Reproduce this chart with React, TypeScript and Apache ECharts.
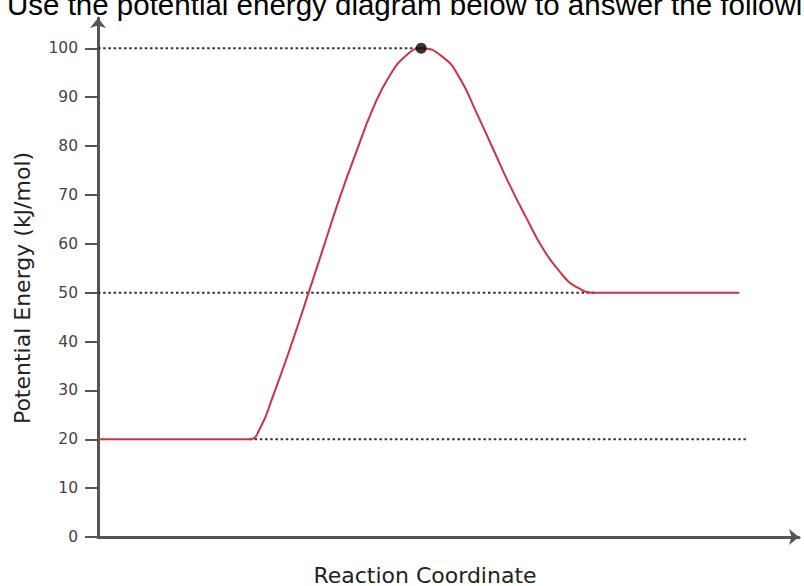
import React, { useEffect, useRef } from "react";
import * as echarts from "echarts";

const headerText = "Use the potential energy diagram below to answer the following question.";
const xTitle = "Reaction Coordinate";
const yTitle = "Potential Energy (kJ/mol)";

const yTickValues = [0, 10, 20, 30, 40, 50, 60, 70, 80, 90, 100];

// energy profile (x in reaction-coordinate units 0..100, y in kJ/mol)
const curveX = [0, 21.6, 23.1, 25.0, 27.4, 30.0, 32.1, 34.5, 36.9, 39.2, 41.6, 44.0, 46.1, 49.2, 51.6, 53.9, 56.3, 58.7, 61.1, 63.4, 65.8, 68.2, 71.0, 91.5];
const curveY = [20, 20, 22.2, 29.0, 38.6, 49.8, 59.0, 69.5, 79.0, 87.6, 94.4, 98.6, 100, 98.2, 93.9, 87.1, 79.6, 72.1, 65.3, 59.2, 54.4, 51.2, 50, 50];

// dotted reference levels
const refLevels = [100, 50, 20];
const refStart = [0, 0, 21.6];
const refEnd = [46.1, 71.0, 92.6];

// transition state point
const peakX = 46.1;
const peakY = 100;

export default function App() {
  const ref = useRef<HTMLDivElement>(null);
  useEffect(() => {
    if (!ref.current) return;
    const chart = echarts.init(ref.current, null, { renderer: "svg" });
    const labelFont = "'DejaVu Sans', 'Open Sans', sans-serif";
    const refSeries = refLevels.map((lv, i) => ({
      type: "line",
      data: [
        [refStart[i], lv],
        [refEnd[i], lv],
      ],
      symbol: "none",
      z: 1,
      lineStyle: { color: "#333", width: 2, type: [2.5, 2.7] },
      silent: true,
    }));
    chart.setOption({
      animation: false,
      backgroundColor: "#fff",
      grid: { left: 98, right: 5, top: 18, bottom: 49, outerBoundsMode: "none", containLabel: false },
      graphic: [
        {
          type: "text",
          left: 7,
          top: -11,
          style: {
            text: headerText,
            font: "29.5px 'Liberation Sans', Arial, sans-serif",
            fill: "#000",
          },
        },
      ],
      xAxis: {
        type: "value",
        min: 0,
        max: 100,
        name: xTitle,
        nameLocation: "middle",
        nameGap: 27,
        nameTextStyle: {
          fontFamily: labelFont,
          fontSize: 22,
          color: "#222",
          padding: [0, 47, 0, 0],
        },
        axisLine: {
          show: true,
          onZero: false,
          symbol: ["none", "arrow"],
          symbolSize: [12, 10],
          lineStyle: { color: "#555", width: 3 },
        },
        axisTick: { show: false },
        axisLabel: { show: false },
        splitLine: { show: false },
      },
      yAxis: {
        type: "value",
        min: 0,
        max: 106.2,
        name: yTitle,
        nameLocation: "middle",
        nameGap: 65,
        nameTextStyle: {
          fontFamily: labelFont,
          fontSize: 22,
          color: "#222",
          padding: [0, 21, 0, 0],
        },
        axisLine: {
          show: true,
          symbol: ["none", "arrow"],
          symbolSize: [12, 10],
          lineStyle: { color: "#555", width: 3 },
        },
        axisTick: {
          show: true,
          length: 13,
          customValues: yTickValues,
          lineStyle: { color: "#555", width: 2 },
        },
        axisLabel: {
          show: true,
          customValues: yTickValues,
          margin: 20,
          fontFamily: labelFont,
          fontSize: 15.5,
          color: "#444",
        },
        splitLine: { show: false },
      },
      series: [
        ...refSeries,
        {
          type: "line",
          data: curveX.map((x, i) => [x, curveY[i]]),
          smooth: 0.5,
          symbol: "none",
          z: 3,
          lineStyle: { color: "#cc3344", width: 2 },
        },
        {
          type: "scatter",
          data: [[peakX, peakY]],
          symbol: "circle",
          symbolSize: 11,
          z: 4,
          itemStyle: { color: "#000" },
        },
      ],
    });
    return () => chart.dispose();
  }, []);
  return (
    <div
      ref={ref}
      style={{ position: "absolute", left: 0, top: 0, width: 804, height: 586 }}
    />
  );
}
